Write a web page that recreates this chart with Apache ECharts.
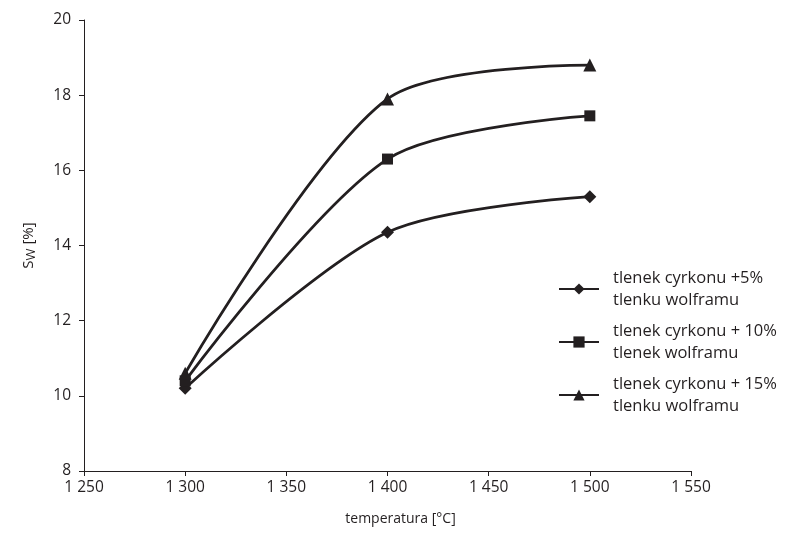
<!DOCTYPE html>
<html><head><meta charset="utf-8">
<script src="https://cdn.jsdelivr.net/npm/echarts@6/dist/echarts.min.js"></script>
<style>html,body{margin:0;padding:0;background:#fff}#c{width:798px;height:550px}</style>
</head><body><div id="c"></div>
<script>
const temperatures = [1300, 1400, 1500];
const series5 = [10.2, 14.35, 15.3];
const series10 = [10.4, 16.3, 17.45];
const series15 = [10.6, 17.9, 18.8];
const seriesNames = [
  'tlenek cyrkonu +5%\ntlenku wolframu',
  'tlenek cyrkonu + 10%\ntlenek wolframu',
  'tlenek cyrkonu + 15%\ntlenku wolframu'
];
const xTicks = {min: 1250, max: 1550, interval: 50};
const yTicks = {min: 8, max: 20, interval: 2};

const FONT = 'Open Sans';
const INK = '#231f20';
function pairs(v){ return temperatures.map((t,i)=>[t, v[i]]); }
function fmt(v){ const s = String(v); return s.length > 3 ? s.slice(0, s.length-3) + ' ' + s.slice(-3) : s; }

const chart = echarts.init(document.getElementById('c'), null, {renderer:'canvas'});
const mk = (name, data, symbol, size) => ({
  name, type:'line', data: pairs(data), smooth: 0.3, symbol, symbolSize: size,
  lineStyle:{color:INK, width:2.8}, itemStyle:{color:INK}, z: 3
});
chart.setOption({
  animation:false,
  textStyle:{fontFamily:FONT},
  grid:{left:84, right:107, top:20, bottom:79},
  xAxis:{type:'value', min:xTicks.min, max:xTicks.max, interval:xTicks.interval,
    name:'temperatura [°C]', nameLocation:'middle', nameGap:41,
    nameTextStyle:{color:INK, fontSize:14, fontFamily:FONT, padding:[0,0,0,26]},
    axisLine:{onZero:false, lineStyle:{color:INK, width:1}},
    axisTick:{show:true, length:5, lineStyle:{color:INK}},
    axisLabel:{color:INK, fontSize:15.5, margin:9, formatter:fmt},
    splitLine:{show:false}},
  yAxis:{type:'value', min:yTicks.min, max:yTicks.max, interval:yTicks.interval,
    name:'S{sub|W} [%]', nameLocation:'middle', nameGap:46, nameRotate:90,
    nameTextStyle:{color:INK, fontSize:15, fontFamily:FONT,
      rich:{sub:{fontSize:13, verticalAlign:'bottom', padding:[6,0,0,0], color:INK, fontFamily:FONT}}},
    axisLine:{show:true, onZero:false, lineStyle:{color:INK, width:1}},
    axisTick:{show:true, length:5, lineStyle:{color:INK}},
    axisLabel:{color:INK, fontSize:15.5, margin:13},
    splitLine:{show:false}},
  legend:{orient:'vertical', left:553, top:262, itemWidth:40, itemHeight:14, itemGap:9,
    textStyle:{color:INK, fontSize:16.5, fontFamily:FONT, lineHeight:22, padding:[0,0,0,9]},
    data: seriesNames},
  series:[
    mk(seriesNames[0], series5, 'diamond', 13),
    mk(seriesNames[1], series10, 'rect', 11),
    mk(seriesNames[2], series15, 'triangle', 13)
  ]
});
</script></body></html>
